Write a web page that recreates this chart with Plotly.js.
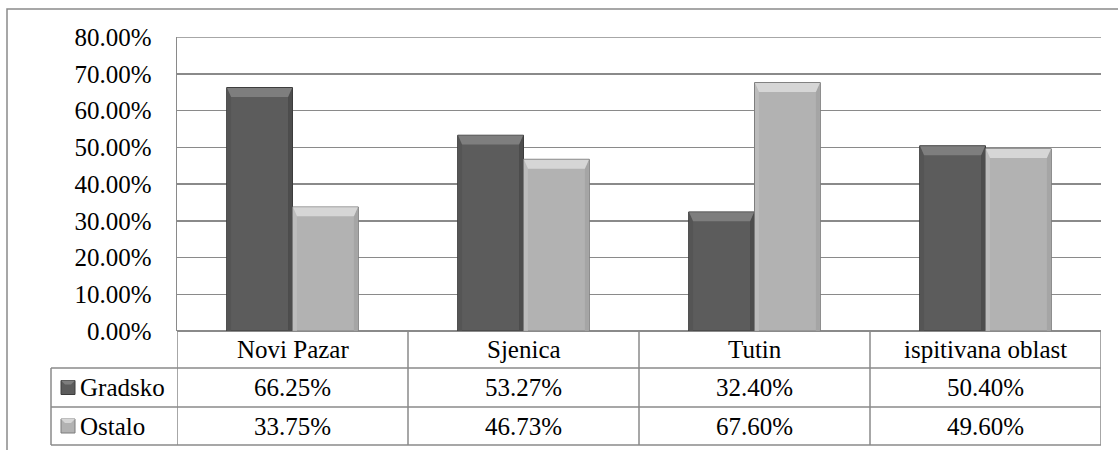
<!DOCTYPE html>
<html>
<head>
<meta charset="utf-8">
<script src="https://cdn.plot.ly/plotly-3.0.1.min.js"></script>
<style>
  html, body { margin: 0; padding: 0; background: #fff; }
  #chart { width: 1118px; height: 450px; }
</style>
</head>
<body>
<div id="chart"></div>
<script>
// Share of urban ("Gradsko") vs other ("Ostalo") population per municipality
const categories = ['Novi Pazar', 'Sjenica', 'Tutin', 'ispitivana oblast'];
const seriesNames = ['Gradsko', 'Ostalo'];
const gradsko = [0.6625, 0.5327, 0.3240, 0.5040];
const ostalo  = [0.3375, 0.4673, 0.6760, 0.4960];
const yTicks = [0, 0.1, 0.2, 0.3, 0.4, 0.5, 0.6, 0.7, 0.8];

const W = 1118, H = 450;
const M = { l: 177, r: 17, t: 37, b: 119 };
const PW = W - M.l - M.r, PH = H - M.t - M.b;
// pixel -> paper helpers for the frame and the data table under the plot
const px = v => (v - M.l) / PW;
const py = v => (H - M.b - v) / PH;

const FONT = '"Liberation Serif", "Times New Roman", serif';
const FS = 25;
const LINE = '#8a8a8a';
const BARGAP = 0.43;
const YMAX = yTicks[yTicks.length - 1];

const series = [gradsko, ostalo];
const colors = ['#5c5c5c', '#b2b2b2'];
const edges = ['#3c3c3c', '#7c7c7c'];
// bevel shades: top face, left face, right face
const bevel = [
  { top: '#7e7e7e', left: '#555555', right: '#4d4d4d' },
  { top: '#d6d6d6', left: '#bcbcbc', right: '#a5a5a5' }
];

const traces = series.map((vals, i) => ({
  type: 'bar',
  name: seriesNames[i],
  x: categories,
  y: vals,
  marker: { color: colors[i], line: { color: edges[i], width: 1 } },
  hoverinfo: 'x+y'
}));

const shapes = [];
const annotations = [];

// outer chart frame
shapes.push({ type: 'rect', xref: 'paper', yref: 'paper',
  x0: px(7), x1: px(1125), y0: py(460), y1: py(9),
  line: { color: LINE, width: 1.5 }, fillcolor: 'rgba(0,0,0,0)', layer: 'below' });

// gridline at the upper end of the value range
shapes.push({ type: 'line', xref: 'paper', yref: 'y',
  x0: 0, x1: 1, y0: YMAX, y1: YMAX,
  line: { color: LINE, width: 1.5 }, layer: 'below' });

// bevelled faces on each bar, placed in axis units
const nCat = categories.length;
const barW = (1 - BARGAP) / series.length;
const catPx = PW / nCat;
const dx = 4 / catPx;            // side face width
const dy = 9 / PH * YMAX;        // top face height
const P = (x, y) => x.toFixed(4) + ',' + y.toFixed(5);
series.forEach((vals, i) => {
  vals.forEach((v, j) => {
    const L = j - (1 - BARGAP) / 2 + i * barW + 0.002;
    const R = L + barW - 0.004;
    const T = v - 0.001;
    const B = 0.001;
    shapes.push({ type: 'path', xref: 'x', yref: 'y', layer: 'above',
      path: 'M' + P(L, B) + 'L' + P(L, T) + 'L' + P(L + dx, T - dy) + 'L' + P(L + dx, B) + 'Z',
      fillcolor: bevel[i].left, line: { width: 0 } });
    shapes.push({ type: 'path', xref: 'x', yref: 'y', layer: 'above',
      path: 'M' + P(R, B) + 'L' + P(R, T) + 'L' + P(R - dx, T - dy) + 'L' + P(R - dx, B) + 'Z',
      fillcolor: bevel[i].right, line: { width: 0 } });
    shapes.push({ type: 'path', xref: 'x', yref: 'y', layer: 'above',
      path: 'M' + P(L, T) + 'L' + P(R, T) + 'L' + P(R - dx, T - dy) + 'L' + P(L + dx, T - dy) + 'Z',
      fillcolor: bevel[i].top, line: { width: 0 } });
  });
});

// data table under the plot
const rowHeader = [331, 368];
const rowG = [368, 407];
const rowO = [407, 445];
const tableLeft = 51;

[368, 407, 445].forEach(yy => {
  shapes.push({ type: 'line', xref: 'paper', yref: 'paper',
    x0: px(tableLeft), x1: 1, y0: py(yy), y1: py(yy),
    line: { color: LINE, width: 1.5 } });
});
for (let k = 0; k <= nCat; k++) {
  shapes.push({ type: 'line', xref: 'x', yref: 'paper',
    x0: k - 0.5, x1: k - 0.5, y0: 0, y1: py(445),
    line: { color: LINE, width: 1.5 } });
}
shapes.push({ type: 'line', xref: 'paper', yref: 'paper',
  x0: px(tableLeft), x1: px(tableLeft), y0: py(368), y1: py(445),
  line: { color: LINE, width: 1.5 } });

categories.forEach(c => {
  annotations.push({ xref: 'x', yref: 'paper', x: c, y: py((rowHeader[0] + rowHeader[1]) / 2),
    text: c, showarrow: false, font: { family: FONT, size: FS, color: '#000' },
    xanchor: 'center', yanchor: 'middle' });
});

const rows = [rowG, rowO];
series.forEach((vals, i) => {
  const yc = py((rows[i][0] + rows[i][1]) / 2);
  vals.forEach((v, j) => {
    annotations.push({ xref: 'x', yref: 'paper', x: categories[j], y: yc,
      text: (v * 100).toFixed(2) + '%', showarrow: false,
      font: { family: FONT, size: FS, color: '#000' },
      xanchor: 'center', yanchor: 'middle' });
  });
  // series key swatch
  shapes.push({ type: 'rect', xref: 'paper', yref: 'paper',
    x0: px(61), x1: px(75), y0: yc - 7 / PH, y1: yc + 7 / PH,
    fillcolor: colors[i], line: { color: edges[i], width: 1 } });
  shapes.push({ type: 'path', xref: 'paper', yref: 'paper',
    path: 'M' + P(px(61), yc + 7 / PH) + 'L' + P(px(75), yc + 7 / PH) +
          'L' + P(px(71), yc + 3 / PH) + 'L' + P(px(65), yc + 3 / PH) + 'Z',
    fillcolor: bevel[i].top, line: { width: 0 } });
  annotations.push({ xref: 'paper', yref: 'paper', x: px(78), y: yc,
    text: seriesNames[i], showarrow: false,
    font: { family: FONT, size: FS, color: '#000' },
    xanchor: 'left', yanchor: 'middle' });
});

const layout = {
  width: W, height: H,
  margin: M,
  paper_bgcolor: '#fff', plot_bgcolor: '#fff',
  showlegend: false,
  barmode: 'group',
  bargap: BARGAP,
  bargroupgap: 0,
  font: { family: FONT, size: FS, color: '#000' },
  xaxis: {
    type: 'category',
    showticklabels: false,
    showgrid: false,
    zeroline: false,
    showline: false,
    ticks: '',
    range: [-0.5, nCat - 0.5]
  },
  yaxis: {
    range: [0, YMAX],
    tickvals: yTicks,
    tickformat: '.2%',
    showgrid: true,
    gridcolor: LINE,
    gridwidth: 1.5,
    zeroline: true,
    zerolinecolor: LINE,
    zerolinewidth: 1.5,
    showline: true,
    linecolor: LINE,
    linewidth: 1.5,
    ticks: '',
    ticklabelstandoff: 19,
    tickfont: { family: FONT, size: FS, color: '#000' }
  },
  shapes: shapes,
  annotations: annotations
};

Plotly.newPlot('chart', traces, layout, { displayModeBar: false, staticPlot: true });
</script>
</body>
</html>
